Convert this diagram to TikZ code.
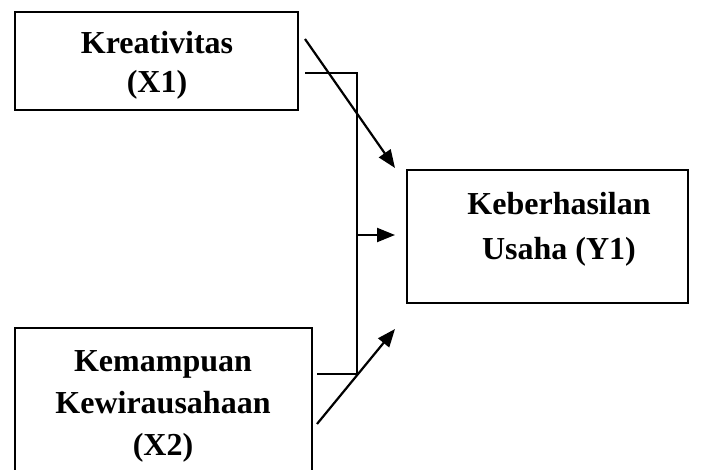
\documentclass[tikz,border=0pt]{standalone}
\usepackage{fontspec}
\setmainfont{Liberation Serif}
\usetikzlibrary{arrows.meta}
\begin{document}
\begin{tikzpicture}[x=1pt,y=-1pt]
\tikzset{box/.style={draw, line width=1.7pt, inner sep=0pt},
  lbl/.style={font=\bfseries, align=center, inner sep=0pt},
  arr/.style={-{Triangle[length=18pt,width=14pt]}, line width=2.2pt},
  link/.style={line width=1.5pt}}
\useasboundingbox (0,0) rectangle (705,470);

\node[box, minimum width=283, minimum height=98] (boxX1) at (156.5,61) {};
\node[lbl, font=\bfseries\fontsize{32}{39}\selectfont] (textX1) at (157,65) {Kreativitas\\(X1)};

\node[box, minimum width=297, minimum height=170] (boxX2) at (163.5,413) {};
\node[lbl, font=\bfseries\fontsize{32}{42}\selectfont] (textX2) at (163,406) {Kemampuan\\Kewirausahaan\\(X2)};

\node[box, minimum width=281, minimum height=133] (boxY1) at (547.5,236.5) {};
\node[lbl, font=\bfseries\fontsize{32}{45}\selectfont] (textY1) at (559,229) {Keberhasilan\\Usaha (Y1)};

\coordinate (startA1) at (305,39);
\coordinate (endA1) at (395,168);
\coordinate (startX1) at (305,73);
\coordinate (topJ) at (357,73);
\coordinate (midJ) at (357,235);
\coordinate (endMid) at (395,235);
\coordinate (botJ) at (357,374);
\coordinate (startX2) at (317,374);
\coordinate (startA2) at (317,424);
\coordinate (endA2) at (395,329);

\draw[arr] (startA1) -- (endA1);
\draw[link] (startX1) -- (topJ) -- (botJ) -- (startX2);
\draw[arr] (midJ) -- (endMid);
\draw[arr] (startA2) -- (endA2);
\end{tikzpicture}
\end{document}
